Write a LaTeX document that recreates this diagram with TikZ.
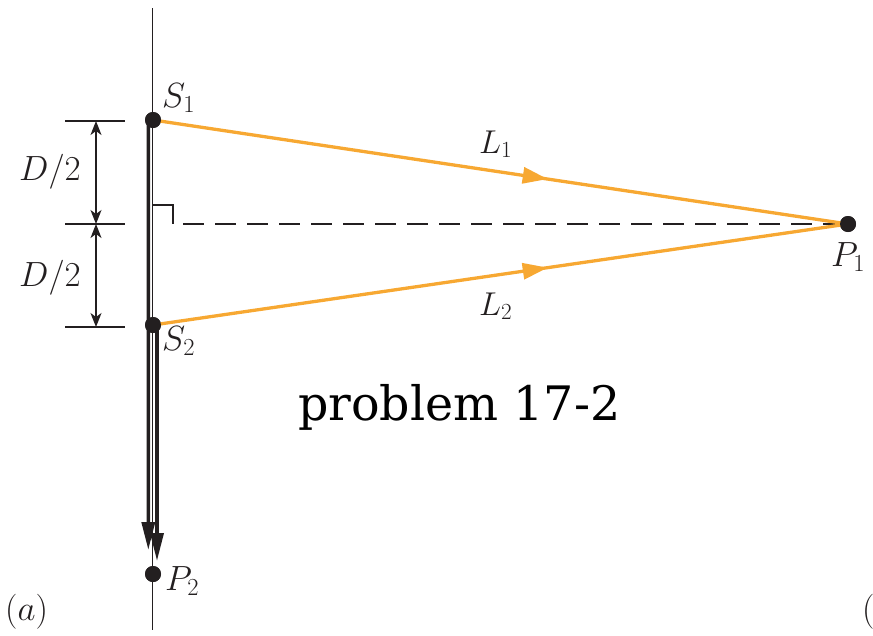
\RequirePackage{fix-cm}
\documentclass[tikz,border=0pt]{standalone}
\usepackage{fontspec}
\newfontfamily\dvserif{DejaVu Serif}
\usetikzlibrary{arrows.meta,decorations.markings}
\definecolor{org}{RGB}{247,168,50}
\definecolor{ink}{RGB}{35,31,32}
\begin{document}
\begin{tikzpicture}[x=1pt,y=-1pt,
  dotnode/.style={circle,fill=ink,inner sep=0pt,minimum size=16pt},
  lbl/.style={inner sep=0pt,text=ink,font=\fontsize{35}{40}\selectfont},
  llbl/.style={inner sep=0pt,text=ink,font=\fontsize{33}{38}\selectfont},
  ray/.style={draw=org,line width=3.3pt,postaction={decorate},
    decoration={markings,mark=at position 0.568 with {\arrow[org]{Triangle[length=25pt,width=16pt]}}}},
  beam/.style={draw=ink,line width=3.5pt,-{Triangle[length=28pt,width=13pt]}},
  dimline/.style={draw=ink,line width=1.4pt},
  dimarr/.style={draw=ink,line width=1.4pt,{Stealth[length=14pt,width=11pt,inset=4pt]}-{Stealth[length=14pt,width=11pt,inset=4pt]}},
  guide/.style={draw=ink,line width=1.3pt}]
\useasboundingbox (0,0) rectangle (873,635);

% coordinates
\coordinate (top) at (152.7,8);
\coordinate (bot) at (152.7,630);
\coordinate (dstart) at (183,224);
\coordinate (t1) at (148.3,550);
\coordinate (t2) at (157,561);
\coordinate (a1) at (65,121);
\coordinate (b1) at (125,121);
\coordinate (a2) at (65,224);
\coordinate (b2) at (125,224);
\coordinate (a3) at (65,327);
\coordinate (b3) at (125,327);
\coordinate (v1) at (96,121);
\coordinate (v2) at (96,224);
\coordinate (v3) at (96,327);

% points
\node[dotnode] (s1) at (153,120) {};
\node[dotnode] (s2) at (153,325) {};
\node[dotnode] (p1) at (848,224) {};
\node[dotnode] (p2) at (153,574) {};

% screen line
\draw[guide] (top) -- (bot);

% beams down to P2
\draw[beam] ([xshift=-4.5pt]s1.center) -- (t1);
\draw[beam] ([xshift=4pt]s2.center) -- (t2);

% right angle mark
\draw[draw=ink,line width=1.3pt] (153,205) -- (173,205) -- (173,224);

% dashed axis
\draw[draw=ink,line width=1.4pt,dash pattern=on 21pt off 11pt] (dstart) -- (p1.center);

% rays
\path[ray] (s1.center) -- (p1.center);
\path[ray] (s2.center) -- (p1.center);

% dimension marks
\draw[dimline] (a1) -- (b1);
\draw[dimline] (a2) -- (b2);
\draw[dimline] (a3) -- (b3);
\draw[dimarr] (v1) -- (v2);
\draw[dimarr] (v2) -- (v3);

% redraw dots on top
\node[dotnode] at (s1) {};
\node[dotnode] at (s2) {};
\node[dotnode] at (p1) {};
\node[dotnode] at (p2) {};

% labels
\node[lbl,anchor=base west] (ls1) at (162,107) {$S_1$};
\node[lbl,anchor=base west] (ls2) at (162,350) {$S_2$};
\node[lbl,anchor=base west] (lp1) at (831,266) {$P_1$};
\node[lbl,anchor=base west] (lp2) at (165,590) {$P_2$};
\node[llbl,anchor=base west] (ll1) at (479,153) {$L_1$};
\node[llbl,anchor=base west] (ll2) at (479,315) {$L_2$};
\node[lbl] (d1) at (50,172) {$D/2$};
\node[lbl] (d2) at (50,278) {$D/2$};
\node[lbl,anchor=base west] (la) at (5,620) {$(a)$};
\node[lbl,anchor=base west] (lb) at (862,620) {(};
\node[inner sep=0pt,anchor=base west,text=black,font=\dvserif\fontsize{47.5}{55}\selectfont] (title) at (298,420) {problem 17-2};
\end{tikzpicture}
\end{document}
